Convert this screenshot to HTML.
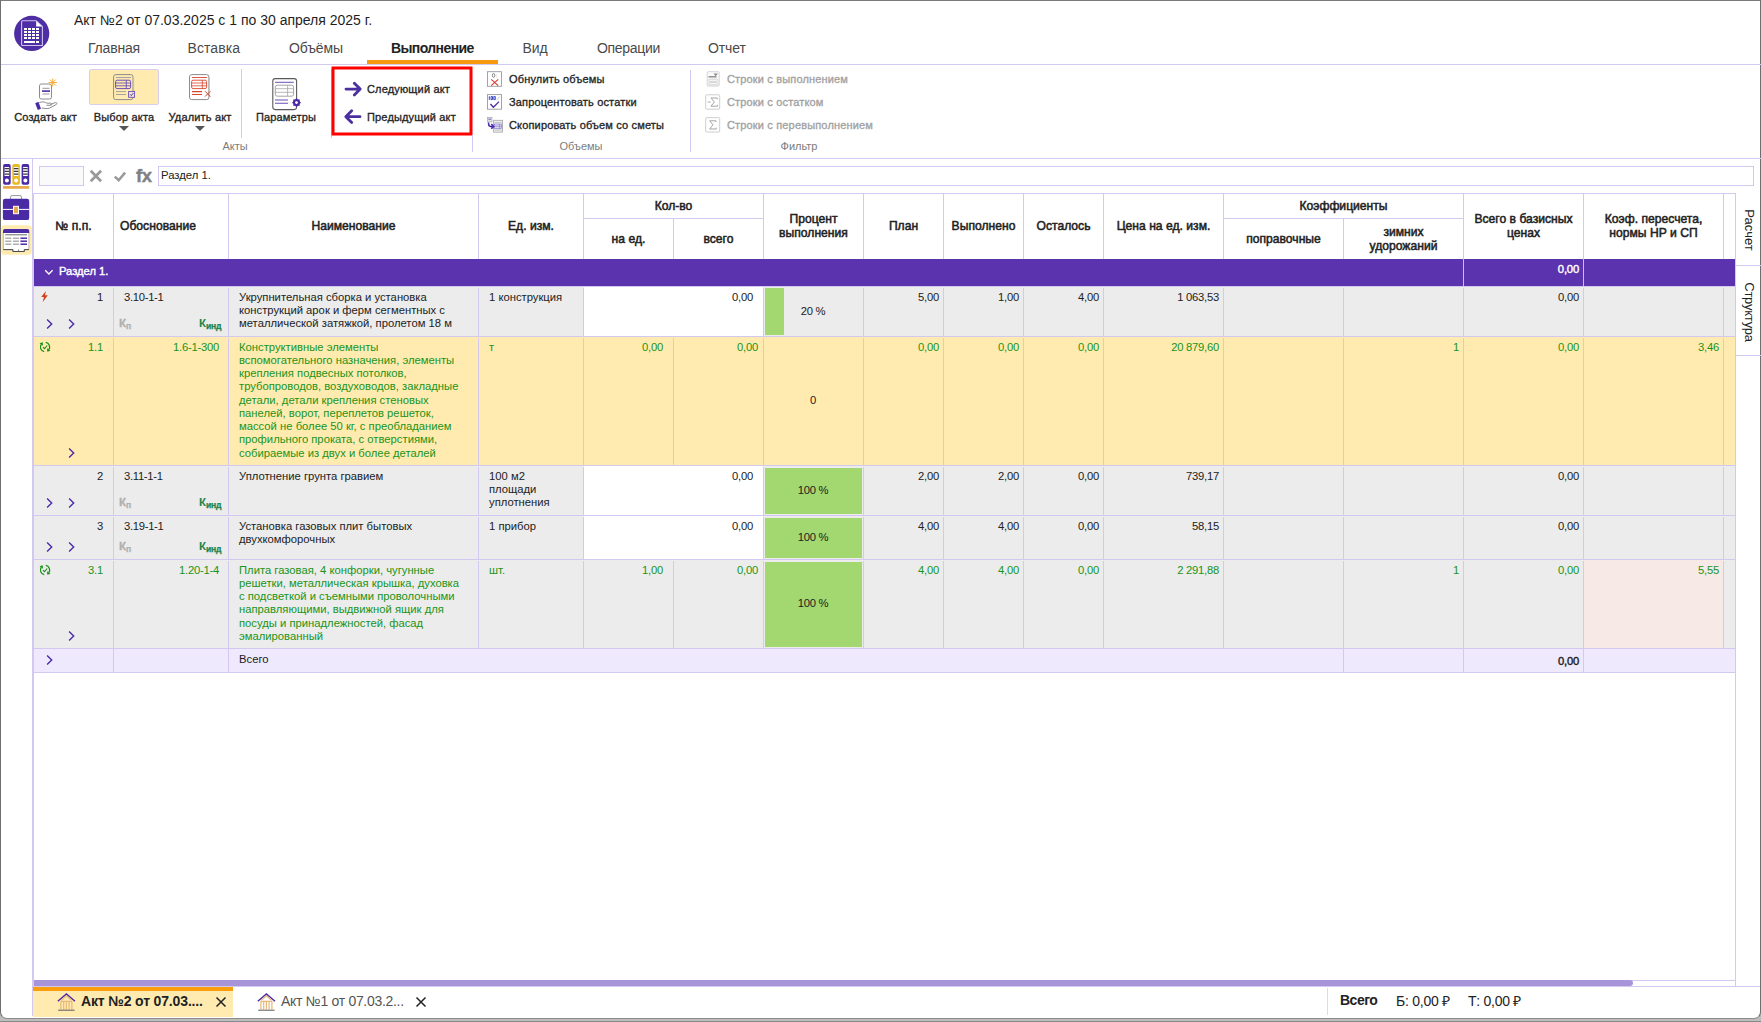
<!DOCTYPE html>
<html lang="ru"><head><meta charset="utf-8"><title>Акт</title><style>
*{box-sizing:border-box;margin:0;padding:0}
html,body{width:1761px;height:1022px;overflow:hidden;background:#fff}
body{font-family:"Liberation Sans",sans-serif;font-size:11.3px;color:#222;position:relative}
.a{position:absolute}
.nw{white-space:nowrap}
.hl{position:absolute;height:1px;background:#d3c8ef}
.vl{position:absolute;width:1px;background:#d3c8ef}
.tab{position:absolute;top:40px;font-size:14px;line-height:16px;color:#4a4a4a;white-space:nowrap}
.rl{position:absolute;font-size:11px;font-weight:normal;-webkit-text-stroke-width:0.33px;line-height:13px;color:#262626;white-space:nowrap;letter-spacing:0.16px;margin-top:0.4px}
.rl.c{transform:translateX(-50%)}
.rl.dis{color:#a2a2a2}
.gl{position:absolute;font-size:11px;line-height:13px;color:#7c7c7c;white-space:nowrap;transform:translateX(-50%)}
.th{position:absolute;font-size:12.1px;font-weight:normal;-webkit-text-stroke-width:0.52px;line-height:14px;color:#222;text-align:center;letter-spacing:0.02px;display:flex;align-items:center;justify-content:center}
.c{position:absolute;line-height:13px;white-space:nowrap}
.r{text-align:right}
.g{color:#199419}
.arr{position:absolute;width:0;height:0;border-left:5.5px solid transparent;border-right:5.5px solid transparent;border-top:5.5px solid #555}
</style></head>
<body>
<div class="a" style="left:0;top:1000px;width:1761px;height:22px;background:#bdbdbd"></div>
<div class="a" style="left:0;top:1021px;width:1761px;height:1px;background:#8a8a8a"></div>
<div class="a" style="left:0;top:0;width:1761px;height:1019px;background:#fff;border:1px solid #6e6e6e;border-top-color:#7b7b7b;border-bottom-color:#8c8c8c;border-radius:0 0 7px 7px"></div>
<div class="a nw" style="left:74px;top:12px;font-size:14px;line-height:16px;color:#1f1f1f">Акт №2 от 07.03.2025 с 1 по 30 апреля 2025 г.</div>
<div class="tab" style="left:88px;letter-spacing:-0.2px">Главная</div>
<div class="tab" style="left:187.6px;letter-spacing:0.05px">Вставка</div>
<div class="tab" style="left:289px;letter-spacing:-0.12px">Объёмы</div>
<div class="tab" style="left:522.5px;letter-spacing:-0.1px">Вид</div>
<div class="tab" style="left:597px;letter-spacing:-0.3px">Операции</div>
<div class="tab" style="left:708px;letter-spacing:-0.1px">Отчет</div>
<div class="tab" style="left:391px;font-weight:bold;color:#222;letter-spacing:-0.6px">Выполнение</div>
<div class="a" style="left:367px;top:60px;width:131px;height:4px;background:#f79a10"></div>
<div class="hl" style="left:1px;top:64px;width:1760px"></div>
<div class="a" style="left:89px;top:69px;width:70px;height:36px;background:#ffebb0;border:1px solid #d9cdf3;border-radius:2px"></div>
<div class="rl c" style="left:45.5px;top:110.6px">Создать акт</div>
<div class="rl c" style="left:124px;top:110.6px">Выбор акта</div>
<div class="rl c" style="left:200px;top:110.6px">Удалить акт</div>
<div class="arr" style="left:118.5px;top:126px"></div>
<div class="arr" style="left:194.5px;top:126px"></div>
<div class="vl" style="left:241px;top:69px;height:69px"></div>
<div class="rl c" style="left:286px;top:110.6px">Параметры</div>
<div class="gl" style="left:235px;top:140px">Акты</div>
<div class="vl" style="left:331px;top:69px;height:69px"></div>
<svg class="a" style="left:325px;top:60px" width="160" height="84" viewBox="325 60 160 84"><rect x="333" y="68" width="138" height="66" fill="none" stroke="#ff0000" stroke-width="3"/></svg>
<div class="rl" style="left:367px;top:82.7px">Следующий акт</div>
<div class="rl" style="left:367px;top:110.6px">Предыдущий акт</div>
<div class="vl" style="left:472px;top:135px;height:17px"></div>
<div class="rl" style="left:509px;top:72.7px">Обнулить объемы</div>
<div class="rl" style="left:509px;top:95.8px">Запроцентовать остатки</div>
<div class="rl" style="left:509px;top:118.3px">Скопировать объем со сметы</div>
<div class="gl" style="left:581px;top:140px">Объемы</div>
<div class="vl" style="left:690px;top:70px;height:82px"></div>
<div class="rl dis" style="left:727px;top:72.7px">Строки с выполнением</div>
<div class="rl dis" style="left:727px;top:95.8px">Строки с остатком</div>
<div class="rl dis" style="left:727px;top:118.3px">Строки с перевыполнением</div>
<div class="gl" style="left:799px;top:140px">Фильтр</div>
<div class="hl" style="left:1px;top:158px;width:1760px"></div>
<svg class="a" style="left:0;top:0" width="900" height="262" viewBox="0 0 900 262" fill="none">
<circle cx="31.7" cy="33.4" r="17.6" fill="#4f2da5"/>
<path d="M22.6 20.7h13.6l6.2 5.9v18.9h-19.8a1 1 0 0 1-1-1v-22.8a1 1 0 0 1 1-1z" stroke="#cfc3ee" stroke-width="1.1"/>
<path d="M36.2 21v5.5h5.8z" fill="#fff"/>
<rect x="24" y="28" width="3" height="2" fill="#fff"/>
<rect x="28" y="28" width="3" height="2" fill="#fff"/>
<rect x="32" y="28" width="3" height="2" fill="#fff"/>
<rect x="36" y="28" width="3" height="2" fill="#fff"/>
<rect x="24" y="31" width="3" height="2" fill="#fff"/>
<rect x="28" y="31" width="3" height="2" fill="#fff"/>
<rect x="32" y="31" width="3" height="2" fill="#fff"/>
<rect x="36" y="31" width="3" height="2" fill="#fff"/>
<rect x="24" y="34" width="3" height="2" fill="#fff"/>
<rect x="28" y="34" width="3" height="2" fill="#fff"/>
<rect x="32" y="34" width="3" height="2" fill="#fff"/>
<rect x="36" y="34" width="3" height="2" fill="#fff"/>
<rect x="24" y="37" width="3" height="2" fill="#fff"/>
<rect x="28" y="37" width="3" height="2" fill="#fff"/>
<rect x="32" y="37" width="3" height="2" fill="#fff"/>
<rect x="36" y="37" width="3" height="2" fill="#fff"/>
<rect x="24" y="41" width="11" height="2" fill="#fff"/><rect x="36" y="41" width="3" height="2" fill="#fff"/>
<rect x="39.5" y="84" width="12" height="15" rx="1.8" fill="#fff" stroke="#8c8c8c" stroke-width="1"/>
<path d="M42.5 88.3h7M42.5 94h7" stroke="#9a9a9a" stroke-width="1"/>
<path d="M42 91.1h8" stroke="#4b2aa5" stroke-width="1.6"/>
<path d="M52.8 78.3v8.4M48.6 82.5h8.4M49.8 79.5l6 6M55.8 79.5l-6 6" stroke="#f5a623" stroke-width="0.9"/>
<path d="M35.2 103.2l3.2-1.5l2.6 7l-3.2 1.4z" fill="#4b2aa5"/>
<path d="M39.3 102.6c3-1.2 5.5-0.8 7.6 0.6h3.6c1.6 0 1.7 1.9 0.1 2.1h-4.2M50.2 104.6l5-2c1.5-0.5 2.4 1 1.1 1.9l-7 3.7c-1.5 0.6-4.5 0.3-7.6-0.2" stroke="#8c8c8c" stroke-width="1"/>
<rect x="113.6" y="74.6" width="19.4" height="25" rx="2.2" stroke="#8c8c8c" stroke-width="1"/>
<path d="M133.6 77v21" stroke="#c9c0a0" stroke-width="1"/>
<path d="M116 77.5h15" stroke="#9a9a9a" stroke-width="0.9"/>
<rect x="115.6" y="80.2" width="15" height="8.4" rx="1.5" stroke="#6b4fb5" stroke-width="1"/>
<path d="M115.6 83h15M115.6 85.8h15M126.3 80.2v8.4" stroke="#6b4fb5" stroke-width="0.9"/>
<path d="M116 91.6h10M116 94.5h10" stroke="#9a9a9a" stroke-width="0.9"/>
<rect x="128.6" y="91.5" width="6" height="5.8" fill="#efe6d0" stroke="#6b4fb5" stroke-width="0.9"/>
<path d="M130 94.3l1.3 1.4l2.1-2.7" stroke="#4b2aa5" stroke-width="0.9"/>
<rect x="189.5" y="74.6" width="19.4" height="25" rx="2.2" fill="#fff" stroke="#8c8c8c" stroke-width="1"/>
<path d="M209.5 77v21" stroke="#c8c8c8" stroke-width="1"/>
<path d="M192 77.5h15" stroke="#d9452b" stroke-width="0.9"/>
<rect x="191.6" y="80.2" width="15" height="8.4" rx="1.5" stroke="#d9452b" stroke-width="0.9"/>
<path d="M191.6 83h15M191.6 85.8h15M202.3 80.2v8.4" stroke="#d9452b" stroke-width="0.8"/>
<path d="M192 91.6h10M192 94.5h10" stroke="#d9452b" stroke-width="1.1"/>
<path d="M205 91.2l5.4 5.4M210.4 91.2l-5.4 5.4" stroke="#d9452b" stroke-width="1"/>
<rect x="272.8" y="78.6" width="23.8" height="31" rx="2.5" fill="#fff" stroke="#5a5a5a" stroke-width="1.1"/>
<path d="M275 82.3h18.8" stroke="#6b4fb5" stroke-width="1"/>
<rect x="275.3" y="85.2" width="18.3" height="11" rx="2" stroke="#9a9a9a" stroke-width="0.9"/>
<path d="M275.3 88.7h18.3M275.3 92.3h18.3M287.6 85.2v11" stroke="#a5a5a5" stroke-width="0.8"/>
<path d="M275 100h13M275 103.3h13" stroke="#6b4fb5" stroke-width="1.1"/>
<circle cx="296.5" cy="102.6" r="2.6" fill="#fff" stroke="#4b2aa5" stroke-width="2"/>
<path d="M296.5 98.4v8.4M292.3 102.6h8.4M293.5 99.6l6 6M299.5 99.6l-6 6" stroke="#4b2aa5" stroke-width="1.3"/>
<circle cx="296.5" cy="102.6" r="1.4" fill="#fff"/>
<path d="M346 89.1h13.6M354.3 83.2l5.9 5.9l-5.9 5.9" stroke="#4b2fa0" stroke-width="2.8" stroke-linecap="round" stroke-linejoin="round"/>
<path d="M360 116.7h-13.6M351.7 110.8l-5.9 5.9l5.9 5.9" stroke="#4b2fa0" stroke-width="2.8" stroke-linecap="round" stroke-linejoin="round"/>
<rect x="487.5" y="71.7" width="14" height="14.6" fill="#fff" stroke="#9a9a9a" stroke-width="0.9"/>
<ellipse cx="493.6" cy="75.4" rx="1.2" ry="1.9" stroke="#6a6a6a" stroke-width="0.8"/><path d="M496.3 75h0.8M496.3 77h0.8" stroke="#aaa" stroke-width="0.6"/>
<path d="M491.2 79.4l7 6.2M498.2 79.4l-7 6.2" stroke="#d9382b" stroke-width="1.1"/>
<rect x="487.5" y="94.6" width="14" height="14.6" fill="#fff" stroke="#9a9a9a" stroke-width="0.9"/>
<path d="M489.3 96.3v3.6M491 96.6h1.5v3h-1.5zM493.8 96.6h1.5v3h-1.5z" stroke="#2f3fc0" stroke-width="0.95"/>
<path d="M497 99.8l2.6-3.2" stroke="#9aa0d8" stroke-width="0.6"/>
<path d="M490.4 104l3 3.2l5.6-5.6" stroke="#4b2aa5" stroke-width="1.3"/>
<rect x="487.4" y="117.3" width="4.6" height="4.6" fill="#e4e4e4" stroke="#a8a8a8" stroke-width="0.7"/>
<path d="M488.4 119.2h2.6" stroke="#6b4fb5" stroke-width="0.9"/>
<rect x="493.6" y="120.3" width="9" height="11.8" fill="#f4f4f4" stroke="#a0a0a0" stroke-width="0.8"/>
<path d="M494.6 122.4h7M494.6 130h7" stroke="#b0b0b0" stroke-width="0.8"/>
<rect x="494.6" y="124" width="7" height="4.4" fill="#dcd6f4" stroke="#8a7fd0" stroke-width="0.7"/>
<path d="M494.6 126.2h7M499.4 124v4.4" stroke="#8a7fd0" stroke-width="0.7"/>
<path d="M488.6 122.6v1.4c0 1.8 0.8 2.4 2.2 2.4h2.4M491.3 124l2.4 2.4l-2.4 2.4" stroke="#4b2aa5" stroke-width="1.5"/>
<rect x="707.2" y="71.7" width="12" height="14.4" rx="1" fill="#fafafa" stroke="#cfcfcf" stroke-width="0.9"/>
<path d="M708.5 76.8h8" stroke="#8a8a8a" stroke-width="1.4"/><path d="M713.5 73.6h4.4l-2.2 2.6z" fill="#8a8a8a"/>
<rect x="708.7" y="79.2" width="9" height="2.2" rx="1" stroke="#c4c4c4" stroke-width="0.7"/><rect x="708.7" y="82.6" width="9" height="2.2" rx="1" stroke="#c4c4c4" stroke-width="0.7"/>
<rect x="705.7" y="94.8" width="14" height="14.4" rx="1" fill="#fff" stroke="#c8c8c8" stroke-width="0.9"/>
<rect x="705.7" y="117.6" width="14" height="14.4" rx="1" fill="#fff" stroke="#c8c8c8" stroke-width="0.9"/>
<path d="M707.6 102h3" stroke="#9a9a9a" stroke-width="0.8"/>
<path d="M717.2 99.2v-1.2h-6.2l3.4 4l-3.4 4.2h6.4v-1.3" stroke="#9a9a9a" stroke-width="0.9"/>
<path d="M716 122v-1.2h-6.4l3.4 4l-3.4 4.2h6.6v-1.3" stroke="#9a9a9a" stroke-width="0.9"/>
<rect x="3.1" y="164.1" width="7.6" height="20.6" rx="1.8" fill="#4b2aa5"/>
<rect x="4.6" y="167" width="4.6" height="9" fill="#fff"/>
<path d="M4.6 168.6h4.6M4.6 171.4h4.6M4.6 174.2h4.6" stroke="#3a3a3a" stroke-width="1.2"/>
<circle cx="6.9" cy="180.6" r="2" fill="#fff"/>
<rect x="12.3" y="164.1" width="7.6" height="20.6" rx="1.8" fill="#e8b923"/>
<rect x="13.8" y="167" width="4.6" height="9" fill="#fff"/>
<path d="M13.8 168.6h4.6M13.8 171.4h4.6M13.8 174.2h4.6" stroke="#3a3a3a" stroke-width="1.2"/>
<circle cx="16.1" cy="180.6" r="2" fill="#fff"/>
<rect x="21.6" y="164.1" width="7.6" height="20.6" rx="1.8" fill="#4b2aa5"/>
<rect x="23.1" y="167" width="4.6" height="9" fill="#fff"/>
<path d="M23.1 168.6h4.6M23.1 171.4h4.6M23.1 174.2h4.6" stroke="#3a3a3a" stroke-width="1.2"/>
<circle cx="25.400000000000002" cy="180.6" r="2" fill="#fff"/>
<rect x="3.1" y="186" width="26.1" height="2.8" fill="#e8a94f"/>
<path d="M10.6 199v-2.2a1.2 1.2 0 0 1 1.2-1.2h8.4a1.2 1.2 0 0 1 1.2 1.2v2.2" stroke="#8a8a8a" stroke-width="0.9" fill="#fff"/>
<rect x="2.9" y="198.8" width="26.3" height="21.3" rx="2.2" fill="#4b2aa5"/>
<path d="M2.9 209.4h26.3" stroke="#fff" stroke-width="1"/>
<rect x="13.5" y="206.3" width="5" height="7.4" fill="#e8a94f" stroke="#fff" stroke-width="1"/>
<rect x="1.2" y="225.2" width="30.6" height="29.5" rx="3.5" fill="#ffebb0"/>
<path d="M3.3 232v17.6h9.6v1.9h11.4v-1.9h4.6v-17.6z" fill="#fff" stroke="#9a9a9a" stroke-width="0.7"/>
<path d="M3.3 249.6h9.6v1.9h11.4v-1.9h4.6" stroke="#4a4a4a" stroke-width="1"/>
<path d="M3 233v-2.2a1.8 1.8 0 0 1 1.8-1.8h22.6a1.8 1.8 0 0 1 1.8 1.8v2.2z" fill="#4b2aa5"/>
<path d="M5.2 234.8h21.8" stroke="#6a6a6a" stroke-width="1"/>
<path d="M5.2 238.2h6.2M13 238.2h6" stroke="#b0b0b0" stroke-width="1.5"/><path d="M20.4 238.2h6.6" stroke="#4b2aa5" stroke-width="1.5"/>
<path d="M5.2 241.2h6.2M13 241.2h6" stroke="#b0b0b0" stroke-width="1.5"/><path d="M20.4 241.2h6.6" stroke="#4b2aa5" stroke-width="1.5"/>
<path d="M5.2 244.2h6.2M13 244.2h6" stroke="#b0b0b0" stroke-width="1.5"/><path d="M20.4 244.2h6.6" stroke="#4b2aa5" stroke-width="1.5"/>
<path d="M18.6 249.4v1.9" stroke="#5a5a5a" stroke-width="0.8"/>
</svg>
<div class="vl" style="left:32px;top:158px;height:858px"></div>
<div class="a" style="left:39px;top:166px;width:45px;height:20px;border:1px solid #d3c8ef;background:#fafafa"></div>
<div class="a" style="left:158px;top:166px;width:1596px;height:20px;border:1px solid #d3c8ef;background:#fff"></div>
<div class="a nw" style="left:161px;top:169px;font-size:11.3px;line-height:13px;color:#222">Раздел 1.</div>
<div class="a nw" style="left:136px;top:164.5px;font-size:18.5px;line-height:22px;font-weight:bold;color:#808080;-webkit-text-stroke-width:0.4px;letter-spacing:-0.4px">fx</div>
<svg class="a" style="left:88px;top:168px" width="40" height="16" viewBox="0 0 40 16"><path d="M2.7 2.8l10.4 10.4M13.1 2.8L2.7 13.2" stroke="#999" stroke-width="2.7" fill="none"/><path d="M26.8 8.6l3.9 3.6l6.4-7.6" stroke="#999" stroke-width="2.5" fill="none"/></svg>
<div class="hl" style="left:33px;top:193px;width:1703px"></div>
<div class="vl" style="left:33px;top:193px;height:794px"></div>
<div class="vl" style="left:113px;top:193px;height:66px"></div>
<div class="vl" style="left:228px;top:193px;height:66px"></div>
<div class="vl" style="left:478px;top:193px;height:66px"></div>
<div class="vl" style="left:583px;top:193px;height:66px"></div>
<div class="vl" style="left:673px;top:218px;height:41px"></div>
<div class="vl" style="left:763px;top:193px;height:66px"></div>
<div class="vl" style="left:863px;top:193px;height:66px"></div>
<div class="vl" style="left:943px;top:193px;height:66px"></div>
<div class="vl" style="left:1023px;top:193px;height:66px"></div>
<div class="vl" style="left:1103px;top:193px;height:66px"></div>
<div class="vl" style="left:1223px;top:193px;height:66px"></div>
<div class="vl" style="left:1343px;top:218px;height:41px"></div>
<div class="vl" style="left:1463px;top:193px;height:66px"></div>
<div class="vl" style="left:1583px;top:193px;height:66px"></div>
<div class="vl" style="left:1723px;top:193px;height:66px"></div>
<div class="vl" style="left:1735px;top:193px;height:66px"></div>
<div class="hl" style="left:583px;top:218px;width:180px"></div>
<div class="hl" style="left:1223px;top:218px;width:240px"></div>
<div class="th" style="left:34px;top:194px;width:79px;height:64px;justify-content:center">№ п.п.</div>
<div class="th" style="left:120px;top:194px;width:100px;height:64px;justify-content:flex-start">Обоснование</div>
<div class="th" style="left:229px;top:194px;width:249px;height:64px;justify-content:center">Наименование</div>
<div class="th" style="left:479px;top:194px;width:104px;height:64px;justify-content:center">Ед. изм.</div>
<div class="th" style="left:584px;top:194px;width:179px;height:24px;justify-content:center">Кол-во</div>
<div class="th" style="left:584px;top:219px;width:89px;height:39px;justify-content:center">на ед.</div>
<div class="th" style="left:674px;top:219px;width:89px;height:39px;justify-content:center">всего</div>
<div class="th" style="left:764px;top:194px;width:99px;height:64px;justify-content:center">Процент<br>выполнения</div>
<div class="th" style="left:864px;top:194px;width:79px;height:64px;justify-content:center">План</div>
<div class="th" style="left:944px;top:194px;width:79px;height:64px;justify-content:center">Выполнено</div>
<div class="th" style="left:1024px;top:194px;width:79px;height:64px;justify-content:center">Осталось</div>
<div class="th" style="left:1104px;top:194px;width:119px;height:64px;justify-content:center">Цена на ед. изм.</div>
<div class="th" style="left:1224px;top:194px;width:239px;height:24px;justify-content:center">Коэффициенты</div>
<div class="th" style="left:1224px;top:219px;width:119px;height:39px;justify-content:center">поправочные</div>
<div class="th" style="left:1344px;top:219px;width:119px;height:39px;justify-content:center">зимних<br>удорожаний</div>
<div class="th" style="left:1464px;top:194px;width:119px;height:64px;justify-content:center">Всего в базисных<br>ценах</div>
<div class="th" style="left:1584px;top:194px;width:139px;height:64px;justify-content:center">Коэф. пересчета,<br>нормы НР и СП</div>
<div class="a" style="left:34px;top:259px;width:1702px;height:27px;background:#5b33ae"></div>
<div class="vl" style="left:1463px;top:259px;height:27px;background:#c9bdea"></div>
<div class="vl" style="left:1583px;top:259px;height:27px;background:#c9bdea"></div>
<div class="c" style="left:59px;top:265px;color:#fff;-webkit-text-stroke-width:0.4px;font-size:11.2px;letter-spacing:0px">Раздел 1.</div>
<div class="c r" style="left:1464px;width:115px;top:263px;color:#fff;-webkit-text-stroke-width:0.4px;font-size:11.3px;letter-spacing:-0.2px">0,00</div>
<svg class="a" style="left:43px;top:267px" width="12" height="10" viewBox="0 0 12 10"><path d="M2.2 3.2l3.7 3.8l3.7-3.8" stroke="#fff" stroke-width="1.3" fill="none"/></svg>
<div class="hl" style="left:34px;top:286px;width:1702px"></div>
<div class="a" style="left:34px;top:287px;width:1702px;height:49px;background:#ececec"></div>
<div class="hl" style="left:33px;top:336px;width:1703px"></div>
<div class="a" style="left:34px;top:337px;width:1702px;height:128px;background:#ffebb0"></div>
<div class="hl" style="left:33px;top:465px;width:1703px"></div>
<div class="a" style="left:34px;top:466px;width:1702px;height:49px;background:#ececec"></div>
<div class="hl" style="left:33px;top:515px;width:1703px"></div>
<div class="a" style="left:34px;top:516px;width:1702px;height:43px;background:#ececec"></div>
<div class="hl" style="left:33px;top:559px;width:1703px"></div>
<div class="a" style="left:34px;top:560px;width:1702px;height:88px;background:#ececec"></div>
<div class="hl" style="left:33px;top:648px;width:1703px"></div>
<div class="a" style="left:34px;top:649px;width:1702px;height:23px;background:#eee9fd"></div>
<div class="hl" style="left:33px;top:672px;width:1703px"></div>
<div class="vl" style="left:113px;top:288px;height:48px"></div>
<div class="vl" style="left:228px;top:288px;height:48px"></div>
<div class="vl" style="left:478px;top:288px;height:48px"></div>
<div class="vl" style="left:583px;top:288px;height:48px"></div>
<div class="vl" style="left:673px;top:288px;height:48px"></div>
<div class="vl" style="left:763px;top:288px;height:48px"></div>
<div class="vl" style="left:863px;top:288px;height:48px"></div>
<div class="vl" style="left:943px;top:288px;height:48px"></div>
<div class="vl" style="left:1023px;top:288px;height:48px"></div>
<div class="vl" style="left:1103px;top:288px;height:48px"></div>
<div class="vl" style="left:1223px;top:288px;height:48px"></div>
<div class="vl" style="left:1343px;top:288px;height:48px"></div>
<div class="vl" style="left:1463px;top:288px;height:48px"></div>
<div class="vl" style="left:1583px;top:288px;height:48px"></div>
<div class="vl" style="left:1723px;top:288px;height:48px"></div>
<div class="vl" style="left:113px;top:338px;height:127px"></div>
<div class="vl" style="left:228px;top:338px;height:127px"></div>
<div class="vl" style="left:478px;top:338px;height:127px"></div>
<div class="vl" style="left:583px;top:338px;height:127px"></div>
<div class="vl" style="left:673px;top:338px;height:127px"></div>
<div class="vl" style="left:763px;top:338px;height:127px"></div>
<div class="vl" style="left:863px;top:338px;height:127px"></div>
<div class="vl" style="left:943px;top:338px;height:127px"></div>
<div class="vl" style="left:1023px;top:338px;height:127px"></div>
<div class="vl" style="left:1103px;top:338px;height:127px"></div>
<div class="vl" style="left:1223px;top:338px;height:127px"></div>
<div class="vl" style="left:1343px;top:338px;height:127px"></div>
<div class="vl" style="left:1463px;top:338px;height:127px"></div>
<div class="vl" style="left:1583px;top:338px;height:127px"></div>
<div class="vl" style="left:1723px;top:338px;height:127px"></div>
<div class="vl" style="left:113px;top:467px;height:48px"></div>
<div class="vl" style="left:228px;top:467px;height:48px"></div>
<div class="vl" style="left:478px;top:467px;height:48px"></div>
<div class="vl" style="left:583px;top:467px;height:48px"></div>
<div class="vl" style="left:673px;top:467px;height:48px"></div>
<div class="vl" style="left:763px;top:467px;height:48px"></div>
<div class="vl" style="left:863px;top:467px;height:48px"></div>
<div class="vl" style="left:943px;top:467px;height:48px"></div>
<div class="vl" style="left:1023px;top:467px;height:48px"></div>
<div class="vl" style="left:1103px;top:467px;height:48px"></div>
<div class="vl" style="left:1223px;top:467px;height:48px"></div>
<div class="vl" style="left:1343px;top:467px;height:48px"></div>
<div class="vl" style="left:1463px;top:467px;height:48px"></div>
<div class="vl" style="left:1583px;top:467px;height:48px"></div>
<div class="vl" style="left:1723px;top:467px;height:48px"></div>
<div class="vl" style="left:113px;top:517px;height:42px"></div>
<div class="vl" style="left:228px;top:517px;height:42px"></div>
<div class="vl" style="left:478px;top:517px;height:42px"></div>
<div class="vl" style="left:583px;top:517px;height:42px"></div>
<div class="vl" style="left:673px;top:517px;height:42px"></div>
<div class="vl" style="left:763px;top:517px;height:42px"></div>
<div class="vl" style="left:863px;top:517px;height:42px"></div>
<div class="vl" style="left:943px;top:517px;height:42px"></div>
<div class="vl" style="left:1023px;top:517px;height:42px"></div>
<div class="vl" style="left:1103px;top:517px;height:42px"></div>
<div class="vl" style="left:1223px;top:517px;height:42px"></div>
<div class="vl" style="left:1343px;top:517px;height:42px"></div>
<div class="vl" style="left:1463px;top:517px;height:42px"></div>
<div class="vl" style="left:1583px;top:517px;height:42px"></div>
<div class="vl" style="left:1723px;top:517px;height:42px"></div>
<div class="vl" style="left:113px;top:561px;height:87px"></div>
<div class="vl" style="left:228px;top:561px;height:87px"></div>
<div class="vl" style="left:478px;top:561px;height:87px"></div>
<div class="vl" style="left:583px;top:561px;height:87px"></div>
<div class="vl" style="left:673px;top:561px;height:87px"></div>
<div class="vl" style="left:763px;top:561px;height:87px"></div>
<div class="vl" style="left:863px;top:561px;height:87px"></div>
<div class="vl" style="left:943px;top:561px;height:87px"></div>
<div class="vl" style="left:1023px;top:561px;height:87px"></div>
<div class="vl" style="left:1103px;top:561px;height:87px"></div>
<div class="vl" style="left:1223px;top:561px;height:87px"></div>
<div class="vl" style="left:1343px;top:561px;height:87px"></div>
<div class="vl" style="left:1463px;top:561px;height:87px"></div>
<div class="vl" style="left:1583px;top:561px;height:87px"></div>
<div class="vl" style="left:1723px;top:561px;height:87px"></div>
<div class="vl" style="left:113px;top:649px;height:23px"></div>
<div class="vl" style="left:228px;top:649px;height:23px"></div>
<div class="vl" style="left:1343px;top:649px;height:23px"></div>
<div class="vl" style="left:1463px;top:649px;height:23px"></div>
<div class="vl" style="left:1583px;top:649px;height:23px"></div>
<div class="vl" style="left:1735px;top:193px;height:794px"></div>
<div class="a" style="left:584px;top:287px;width:179px;height:49px;background:#fff"></div>
<div class="a" style="left:765px;top:288px;width:19px;height:47px;background:#a3d870"></div>
<svg class="a" style="left:41px;top:291px" width="7" height="11" viewBox="0 0 7 11"><path d="M4.9 0L0.2 6.1h2.7L1.7 11.2L6.8 4.3H4z" fill="#d0401f"/></svg>
<div class="c r" style="left:-97px;width:200px;top:290.50px;font-size:11.25px;line-height:13.25px;color:#222;letter-spacing:-0.25px;">1</div>
<svg class="a" style="left:46px;top:318px" width="8" height="12" viewBox="0 0 8 12"><path d="M1.1 1.5l4.6 4.5l-4.6 4.5" stroke="#4b2aa5" stroke-width="1.4" fill="none"/></svg>
<svg class="a" style="left:68px;top:318px" width="8" height="12" viewBox="0 0 8 12"><path d="M1.1 1.5l4.6 4.5l-4.6 4.5" stroke="#4b2aa5" stroke-width="1.4" fill="none"/></svg>
<div class="c" style="left:124px;top:290.50px;font-size:11.25px;line-height:13.25px;color:#222;letter-spacing:-0.3px">3.10-1-1</div>
<div class="c" style="left:119px;top:315.5px;font-size:11.5px;line-height:14px;font-weight:bold;color:#b0b0b0;-webkit-text-stroke-width:0.3px">К<span style="font-size:8.6px;position:relative;top:2.6px;letter-spacing:-0.1px;-webkit-text-stroke-width:0.25px">п</span></div>
<div class="c" style="left:199px;top:315.5px;font-size:11.5px;line-height:14px;font-weight:bold;color:#1e8449">К<span style="font-size:8.6px;position:relative;top:2.6px;letter-spacing:-0.2px;-webkit-text-stroke-width:0.25px">инд</span></div>
<div class="c" style="left:239px;top:290.50px;font-size:11.25px;line-height:13.25px;color:#222">Укрупнительная сборка и установка<br>конструкций арок и ферм сегментных с<br>металлической затяжкой, пролетом 18 м</div>
<div class="c" style="left:489px;top:290.50px;font-size:11.25px;line-height:13.25px;color:#222;">1 конструкция</div>
<div class="c r" style="left:553px;width:200px;top:290.50px;font-size:11.25px;line-height:13.25px;color:#222;letter-spacing:-0.25px;">0,00</div>
<div class="c" style="left:763px;width:100px;text-align:center;top:304.50px;font-size:11.25px;line-height:13.25px;color:#222;letter-spacing:-0.25px;">20 %</div>
<div class="c r" style="left:739px;width:200px;top:290.50px;font-size:11.25px;line-height:13.25px;color:#222;letter-spacing:-0.25px;">5,00</div>
<div class="c r" style="left:819px;width:200px;top:290.50px;font-size:11.25px;line-height:13.25px;color:#222;letter-spacing:-0.25px;">1,00</div>
<div class="c r" style="left:899px;width:200px;top:290.50px;font-size:11.25px;line-height:13.25px;color:#222;letter-spacing:-0.25px;">4,00</div>
<div class="c r" style="left:1019px;width:200px;top:290.50px;font-size:11.25px;line-height:13.25px;color:#222;letter-spacing:-0.25px;">1 063,53</div>
<div class="c r" style="left:1379px;width:200px;top:290.50px;font-size:11.25px;line-height:13.25px;color:#222;letter-spacing:-0.25px;">0,00</div>
<svg class="a" style="left:38.5px;top:341px" width="12" height="12" viewBox="0 0 12 12" fill="none" stroke="#1a8f1a" stroke-width="1.25">
<path d="M5.2 10.6A4.7 4.7 0 0 1 2.2 3.3"/><path d="M6.8 1.4A4.7 4.7 0 0 1 9.8 8.7"/>
<path d="M3.7 1.2L4 4.7L0.5 2.3z" fill="#1a8f1a" stroke="none"/><path d="M8.3 10.8L8 7.3L11.5 9.7z" fill="#1a8f1a" stroke="none"/>
<path d="M4 6.1l1.5 1.5l2.7-3.1" stroke-width="1.1"/></svg>
<div class="c r" style="left:-97px;width:200px;top:340.50px;font-size:11.25px;line-height:13.25px;color:#199419;letter-spacing:-0.25px;">1.1</div>
<svg class="a" style="left:68px;top:447px" width="8" height="12" viewBox="0 0 8 12"><path d="M1.1 1.5l4.6 4.5l-4.6 4.5" stroke="#4b2aa5" stroke-width="1.4" fill="none"/></svg>
<div class="c r" style="left:19px;width:200px;top:340.50px;font-size:11.25px;line-height:13.25px;color:#199419;letter-spacing:-0.25px;">1.6-1-300</div>
<div class="c" style="left:239px;top:340.50px;font-size:11.25px;line-height:13.25px;color:#199419">Конструктивные элементы<br>вспомогательного назначения, элементы<br>крепления подвесных потолков,<br>трубопроводов, воздуховодов, закладные<br>детали, детали крепления стеновых<br>панелей, ворот, переплетов решеток,<br>массой не более 50 кг, с преобладанием<br>профильного проката, с отверстиями,<br>собираемые из двух и более деталей</div>
<div class="c" style="left:489px;top:340.50px;font-size:11.25px;line-height:13.25px;color:#199419;">т</div>
<div class="c r" style="left:463px;width:200px;top:340.50px;font-size:11.25px;line-height:13.25px;color:#199419;letter-spacing:-0.25px;">0,00</div>
<div class="c r" style="left:558px;width:200px;top:340.50px;font-size:11.25px;line-height:13.25px;color:#199419;letter-spacing:-0.25px;">0,00</div>
<div class="c" style="left:763px;width:100px;text-align:center;top:393.50px;font-size:11.25px;line-height:13.25px;color:#222;letter-spacing:-0.25px;">0</div>
<div class="c r" style="left:739px;width:200px;top:340.50px;font-size:11.25px;line-height:13.25px;color:#199419;letter-spacing:-0.25px;">0,00</div>
<div class="c r" style="left:819px;width:200px;top:340.50px;font-size:11.25px;line-height:13.25px;color:#199419;letter-spacing:-0.25px;">0,00</div>
<div class="c r" style="left:899px;width:200px;top:340.50px;font-size:11.25px;line-height:13.25px;color:#199419;letter-spacing:-0.25px;">0,00</div>
<div class="c r" style="left:1019px;width:200px;top:340.50px;font-size:11.25px;line-height:13.25px;color:#199419;letter-spacing:-0.25px;">20 879,60</div>
<div class="c r" style="left:1259px;width:200px;top:340.50px;font-size:11.25px;line-height:13.25px;color:#199419;letter-spacing:-0.25px;">1</div>
<div class="c r" style="left:1379px;width:200px;top:340.50px;font-size:11.25px;line-height:13.25px;color:#199419;letter-spacing:-0.25px;">0,00</div>
<div class="c r" style="left:1519px;width:200px;top:340.50px;font-size:11.25px;line-height:13.25px;color:#199419;letter-spacing:-0.25px;">3,46</div>
<div class="a" style="left:584px;top:466px;width:179px;height:49px;background:#fff"></div>
<div class="a" style="left:765px;top:468px;width:97px;height:46px;background:#a3d870"></div>
<div class="c r" style="left:-97px;width:200px;top:469.50px;font-size:11.25px;line-height:13.25px;color:#222;letter-spacing:-0.25px;">2</div>
<svg class="a" style="left:46px;top:497px" width="8" height="12" viewBox="0 0 8 12"><path d="M1.1 1.5l4.6 4.5l-4.6 4.5" stroke="#4b2aa5" stroke-width="1.4" fill="none"/></svg>
<svg class="a" style="left:68px;top:497px" width="8" height="12" viewBox="0 0 8 12"><path d="M1.1 1.5l4.6 4.5l-4.6 4.5" stroke="#4b2aa5" stroke-width="1.4" fill="none"/></svg>
<div class="c" style="left:124px;top:469.50px;font-size:11.25px;line-height:13.25px;color:#222;letter-spacing:-0.3px">3.11-1-1</div>
<div class="c" style="left:119px;top:494.5px;font-size:11.5px;line-height:14px;font-weight:bold;color:#b0b0b0;-webkit-text-stroke-width:0.3px">К<span style="font-size:8.6px;position:relative;top:2.6px;letter-spacing:-0.1px;-webkit-text-stroke-width:0.25px">п</span></div>
<div class="c" style="left:199px;top:494.5px;font-size:11.5px;line-height:14px;font-weight:bold;color:#1e8449">К<span style="font-size:8.6px;position:relative;top:2.6px;letter-spacing:-0.2px;-webkit-text-stroke-width:0.25px">инд</span></div>
<div class="c" style="left:239px;top:469.50px;font-size:11.25px;line-height:13.25px;color:#222;">Уплотнение грунта гравием</div>
<div class="c" style="left:489px;top:469.50px;font-size:11.25px;line-height:13.25px;color:#222">100 м2<br>площади<br>уплотнения</div>
<div class="c r" style="left:553px;width:200px;top:469.50px;font-size:11.25px;line-height:13.25px;color:#222;letter-spacing:-0.25px;">0,00</div>
<div class="c" style="left:763px;width:100px;text-align:center;top:483.50px;font-size:11.25px;line-height:13.25px;color:#222;letter-spacing:-0.25px;">100 %</div>
<div class="c r" style="left:739px;width:200px;top:469.50px;font-size:11.25px;line-height:13.25px;color:#222;letter-spacing:-0.25px;">2,00</div>
<div class="c r" style="left:819px;width:200px;top:469.50px;font-size:11.25px;line-height:13.25px;color:#222;letter-spacing:-0.25px;">2,00</div>
<div class="c r" style="left:899px;width:200px;top:469.50px;font-size:11.25px;line-height:13.25px;color:#222;letter-spacing:-0.25px;">0,00</div>
<div class="c r" style="left:1019px;width:200px;top:469.50px;font-size:11.25px;line-height:13.25px;color:#222;letter-spacing:-0.25px;">739,17</div>
<div class="c r" style="left:1379px;width:200px;top:469.50px;font-size:11.25px;line-height:13.25px;color:#222;letter-spacing:-0.25px;">0,00</div>
<div class="a" style="left:584px;top:516px;width:179px;height:43px;background:#fff"></div>
<div class="a" style="left:765px;top:518px;width:97px;height:40px;background:#a3d870"></div>
<div class="c r" style="left:-97px;width:200px;top:519.50px;font-size:11.25px;line-height:13.25px;color:#222;letter-spacing:-0.25px;">3</div>
<svg class="a" style="left:46px;top:541px" width="8" height="12" viewBox="0 0 8 12"><path d="M1.1 1.5l4.6 4.5l-4.6 4.5" stroke="#4b2aa5" stroke-width="1.4" fill="none"/></svg>
<svg class="a" style="left:68px;top:541px" width="8" height="12" viewBox="0 0 8 12"><path d="M1.1 1.5l4.6 4.5l-4.6 4.5" stroke="#4b2aa5" stroke-width="1.4" fill="none"/></svg>
<div class="c" style="left:124px;top:519.50px;font-size:11.25px;line-height:13.25px;color:#222;letter-spacing:-0.3px">3.19-1-1</div>
<div class="c" style="left:119px;top:538.5px;font-size:11.5px;line-height:14px;font-weight:bold;color:#b0b0b0;-webkit-text-stroke-width:0.3px">К<span style="font-size:8.6px;position:relative;top:2.6px;letter-spacing:-0.1px;-webkit-text-stroke-width:0.25px">п</span></div>
<div class="c" style="left:199px;top:538.5px;font-size:11.5px;line-height:14px;font-weight:bold;color:#1e8449">К<span style="font-size:8.6px;position:relative;top:2.6px;letter-spacing:-0.2px;-webkit-text-stroke-width:0.25px">инд</span></div>
<div class="c" style="left:239px;top:519.50px;font-size:11.25px;line-height:13.25px;color:#222">Установка газовых плит бытовых<br>двухкомфорочных</div>
<div class="c" style="left:489px;top:519.50px;font-size:11.25px;line-height:13.25px;color:#222;">1 прибор</div>
<div class="c r" style="left:553px;width:200px;top:519.50px;font-size:11.25px;line-height:13.25px;color:#222;letter-spacing:-0.25px;">0,00</div>
<div class="c" style="left:763px;width:100px;text-align:center;top:530.50px;font-size:11.25px;line-height:13.25px;color:#222;letter-spacing:-0.25px;">100 %</div>
<div class="c r" style="left:739px;width:200px;top:519.50px;font-size:11.25px;line-height:13.25px;color:#222;letter-spacing:-0.25px;">4,00</div>
<div class="c r" style="left:819px;width:200px;top:519.50px;font-size:11.25px;line-height:13.25px;color:#222;letter-spacing:-0.25px;">4,00</div>
<div class="c r" style="left:899px;width:200px;top:519.50px;font-size:11.25px;line-height:13.25px;color:#222;letter-spacing:-0.25px;">0,00</div>
<div class="c r" style="left:1019px;width:200px;top:519.50px;font-size:11.25px;line-height:13.25px;color:#222;letter-spacing:-0.25px;">58,15</div>
<div class="c r" style="left:1379px;width:200px;top:519.50px;font-size:11.25px;line-height:13.25px;color:#222;letter-spacing:-0.25px;">0,00</div>
<div class="a" style="left:765px;top:562px;width:97px;height:85px;background:#a3d870"></div>
<div class="a" style="left:1584px;top:560px;width:139px;height:88px;background:#f6e9e6"></div>
<svg class="a" style="left:38.5px;top:564px" width="12" height="12" viewBox="0 0 12 12" fill="none" stroke="#1a8f1a" stroke-width="1.25">
<path d="M5.2 10.6A4.7 4.7 0 0 1 2.2 3.3"/><path d="M6.8 1.4A4.7 4.7 0 0 1 9.8 8.7"/>
<path d="M3.7 1.2L4 4.7L0.5 2.3z" fill="#1a8f1a" stroke="none"/><path d="M8.3 10.8L8 7.3L11.5 9.7z" fill="#1a8f1a" stroke="none"/>
<path d="M4 6.1l1.5 1.5l2.7-3.1" stroke-width="1.1"/></svg>
<div class="c r" style="left:-97px;width:200px;top:563.50px;font-size:11.25px;line-height:13.25px;color:#199419;letter-spacing:-0.25px;">3.1</div>
<svg class="a" style="left:68px;top:630px" width="8" height="12" viewBox="0 0 8 12"><path d="M1.1 1.5l4.6 4.5l-4.6 4.5" stroke="#4b2aa5" stroke-width="1.4" fill="none"/></svg>
<div class="c r" style="left:19px;width:200px;top:563.50px;font-size:11.25px;line-height:13.25px;color:#199419;letter-spacing:-0.25px;">1.20-1-4</div>
<div class="c" style="left:239px;top:563.50px;font-size:11.25px;line-height:13.25px;color:#199419">Плита газовая, 4 конфорки, чугунные<br>решетки, металлическая крышка, духовка<br>с подсветкой и съемными проволочными<br>направляющими, выдвижной ящик для<br>посуды и принадлежностей, фасад<br>эмалированный</div>
<div class="c" style="left:489px;top:563.50px;font-size:11.25px;line-height:13.25px;color:#199419;">шт.</div>
<div class="c r" style="left:463px;width:200px;top:563.50px;font-size:11.25px;line-height:13.25px;color:#199419;letter-spacing:-0.25px;">1,00</div>
<div class="c r" style="left:558px;width:200px;top:563.50px;font-size:11.25px;line-height:13.25px;color:#199419;letter-spacing:-0.25px;">0,00</div>
<div class="c" style="left:763px;width:100px;text-align:center;top:596.50px;font-size:11.25px;line-height:13.25px;color:#222;letter-spacing:-0.25px;">100 %</div>
<div class="c r" style="left:739px;width:200px;top:563.50px;font-size:11.25px;line-height:13.25px;color:#199419;letter-spacing:-0.25px;">4,00</div>
<div class="c r" style="left:819px;width:200px;top:563.50px;font-size:11.25px;line-height:13.25px;color:#199419;letter-spacing:-0.25px;">4,00</div>
<div class="c r" style="left:899px;width:200px;top:563.50px;font-size:11.25px;line-height:13.25px;color:#199419;letter-spacing:-0.25px;">0,00</div>
<div class="c r" style="left:1019px;width:200px;top:563.50px;font-size:11.25px;line-height:13.25px;color:#199419;letter-spacing:-0.25px;">2 291,88</div>
<div class="c r" style="left:1259px;width:200px;top:563.50px;font-size:11.25px;line-height:13.25px;color:#199419;letter-spacing:-0.25px;">1</div>
<div class="c r" style="left:1379px;width:200px;top:563.50px;font-size:11.25px;line-height:13.25px;color:#199419;letter-spacing:-0.25px;">0,00</div>
<div class="c r" style="left:1519px;width:200px;top:563.50px;font-size:11.25px;line-height:13.25px;color:#199419;letter-spacing:-0.25px;">5,55</div>
<svg class="a" style="left:46px;top:654px" width="8" height="12" viewBox="0 0 8 12"><path d="M1.1 1.5l4.6 4.5l-4.6 4.5" stroke="#4b2aa5" stroke-width="1.4" fill="none"/></svg>
<div class="c" style="left:239px;top:652.50px;font-size:11.25px;line-height:13.25px;color:#222;">Всего</div>
<div class="c r" style="left:1379px;width:200px;top:654.50px;font-size:11.25px;line-height:13.25px;color:#222;letter-spacing:-0.25px;-webkit-text-stroke-width:0.4px;">0,00</div>
<div class="a" style="left:1736px;top:194px;width:25px;height:72px;border-bottom:1px solid #d3c8ef"></div>
<div class="a" style="left:1736px;top:266px;width:25px;height:90px;border-bottom:1px solid #d3c8ef"></div>
<div class="a nw" style="left:1748.5px;top:230px;font-size:13px;line-height:14px;color:#222;transform:translate(-50%,-50%) rotate(90deg)">Расчет</div>
<div class="a nw" style="left:1748.5px;top:311.5px;font-size:13px;line-height:14px;color:#222;letter-spacing:-0.25px;transform:translate(-50%,-50%) rotate(90deg)">Структура</div>
<div class="a" style="left:34px;top:980px;width:1701px;height:7px;border-top:1px solid #d3c8ef;border-bottom:1px solid #d3c8ef;background:#fff"></div>
<div class="a" style="left:34px;top:980px;width:1599px;height:6px;background:#a895d9;border-radius:0 3px 3px 0"></div>
<div class="hl" style="left:33px;top:986px;width:1727px"></div>
<div class="a" style="left:33px;top:987px;width:200px;height:30px;background:#ffebb0;border-top:4px solid #fa9e0d"></div>
<svg class="a" style="left:57px;top:992px" width="19" height="20" viewBox="0 0 19 20" fill="none">
<path d="M0.8 9.2L9.4 2l8.6 7.2" stroke="#4b2aa5" stroke-width="1.4"/>
<path d="M4.2 8.2L9.4 3.8l5.2 4.4" stroke="#e8b87a" stroke-width="1.2"/>
<path d="M3.4 9.4h12M3.9 9.4v8M6.7 9.4v8M9.4 9.4v8M12.1 9.4v8M14.9 9.4v8" stroke="#e8b87a" stroke-width="1.2"/>
<path d="M1.2 18.2h16.4" stroke="#5a5a5a" stroke-width="1"/></svg>
<svg class="a" style="left:257px;top:992px" width="19" height="20" viewBox="0 0 19 20" fill="none">
<path d="M0.8 9.2L9.4 2l8.6 7.2" stroke="#4b2aa5" stroke-width="1.4"/>
<path d="M4.2 8.2L9.4 3.8l5.2 4.4" stroke="#e8b87a" stroke-width="1.2"/>
<path d="M3.4 9.4h12M3.9 9.4v8M6.7 9.4v8M9.4 9.4v8M12.1 9.4v8M14.9 9.4v8" stroke="#e8b87a" stroke-width="1.2"/>
<path d="M1.2 18.2h16.4" stroke="#5a5a5a" stroke-width="1"/></svg>
<div class="a nw" style="left:81px;top:993px;font-size:14px;line-height:16px;font-weight:bold;color:#222;letter-spacing:-0.15px">Акт №2 от 07.03....</div>
<div class="a nw" style="left:281px;top:993px;font-size:14px;line-height:16px;color:#555;letter-spacing:-0.3px">Акт №1 от 07.03.2...</div>
<svg class="a" style="left:215px;top:996px" width="12" height="12" viewBox="0 0 12 12"><path d="M1.5 1.5l9 9M10.5 1.5l-9 9" stroke="#222" stroke-width="1.5" fill="none"/></svg>
<svg class="a" style="left:415px;top:996px" width="12" height="12" viewBox="0 0 12 12"><path d="M1.5 1.5l9 9M10.5 1.5l-9 9" stroke="#222" stroke-width="1.5" fill="none"/></svg>
<div class="vl" style="left:1327px;top:988px;height:27px;background:#ddd"></div>
<div class="a nw" style="left:1340px;top:992px;font-size:14px;line-height:16px;font-weight:bold;color:#222;letter-spacing:-0.5px">Всего</div>
<div class="a nw" style="left:1396px;top:993px;font-size:14px;line-height:16px;color:#222;letter-spacing:-0.25px">Б: 0,00 ₽</div>
<div class="a nw" style="left:1468px;top:993px;font-size:14px;line-height:16px;color:#222;letter-spacing:-0.25px">Т: 0,00 ₽</div>
</body></html>
